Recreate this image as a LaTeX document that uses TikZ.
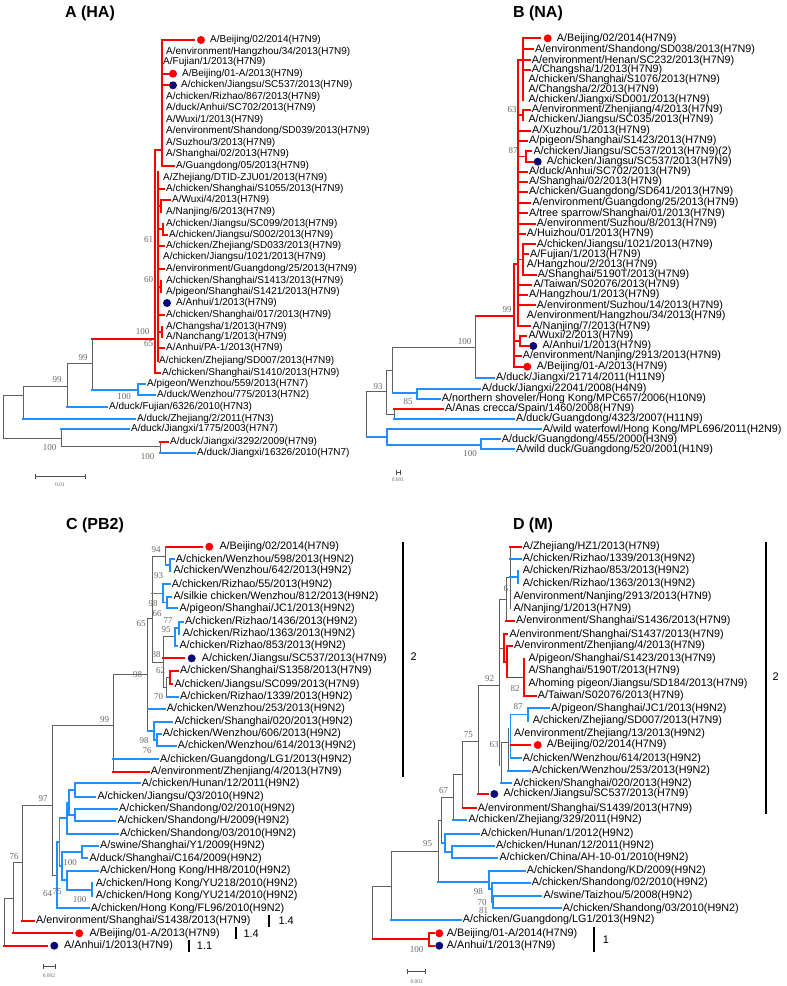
\documentclass[tikz,border=0pt]{standalone}
\usepackage{fontspec}
\setmainfont{Liberation Sans}
\newfontfamily\numfont{Liberation Serif}
\usetikzlibrary{arrows.meta}
\definecolor{hsred}{RGB}{255,0,0}
\definecolor{hnblue}{RGB}{30,144,255}
\definecolor{ndblue}{RGB}{10,10,120}
\definecolor{brgray}{RGB}{96,96,96}
\definecolor{bsgray}{RGB}{105,105,105}

\begin{document}
\begin{tikzpicture}[x=1pt, y=-1pt,
    br/.style={draw=brgray, line width=1pt, line cap=rect},
    h7/.style={draw=hsred, line width=1.8pt, line cap=rect},
    h9/.style={draw=hnblue, line width=1.8pt, line cap=rect},
    leaf/.style={anchor=west, inner sep=2pt},
    lfa/.style={leaf, font=\fontsize{10}{12}\selectfont},
    lfb/.style={leaf, font=\fontsize{10.8}{12}\selectfont},
    rdot/.style={circle, fill=hsred, minimum size=8pt, inner sep=0pt},
    ndot/.style={circle, fill=ndblue, minimum size=8pt, inner sep=0pt},
    boot/.style={font=\numfont\fontsize{9}{9}\selectfont, text=bsgray, inner sep=0pt},
    ttl/.style={font=\fontsize{16}{16}\selectfont\bfseries},
    grpbar/.style={draw=black, line width=2pt},
    grplbl/.style={anchor=west, inner sep=0pt, font=\fontsize{11}{11}\selectfont},
    sbar/.style={draw=black!70, line width=0.8pt, {Bar[width=5pt]}-{Bar[width=5pt]}},
    slbl/.style={font=\numfont\fontsize{5.5}{6}\selectfont, text=bsgray, inner sep=0pt},
]
\useasboundingbox (0,0) rectangle (787,986);

% ---------------- A (HA)
\node[ttl] (ttlA) at (90,13) {A (HA)};
\draw[h7] (155,150) -- (155,373);
\draw[h7] (158,172) -- (158,361);
\draw[h7] (162,40) -- (162,166);
\draw[h7] (155,150) -- (162,150);
\draw[h7] (158,206) -- (161,206) (161,200) -- (161,211.7);
\draw[h7] (158,229) -- (163,229) (163,223.7) -- (163,234.7);
\draw[h7] (158,286.7) -- (161,286.7) (161,281) -- (161,292.3);
\draw[h7] (158,332) -- (162,332) (162,326.7) -- (162,337.3);

\node[rdot] (a01d) at (201,40) {};
\node[lfa] (a01) at (208,40) {A/Beijing/02/2014(H7N9)};
\draw[h7, shorten >=3pt] (162,40) -- (a01d);
\node[lfa] (a02) at (164,51.7) {A/environment/Hangzhou/34/2013(H7N9)};
\node[lfa] (a03) at (161,62.3) {A/Fujian/1/2013(H7N9)};
\node[rdot] (a04d) at (173,73.7) {};
\node[lfa] (a04) at (180,73.7) {A/Beijing/01-A/2013(H7N9)};
\draw[h7] (162,73.7) -- (a04d);
\node[ndot] (a05d) at (173,85.3) {};
\node[lfa] (a05) at (179,85.3) {A/chicken/Jiangsu/SC537/2013(H7N9)};
\draw[h7] (162,85.3) -- (a05d);
\node[lfa] (a06) at (164,97) {A/chicken/Rizhao/867/2013(H7N9)};
\node[lfa] (a07) at (164,108.3) {A/duck/Anhui/SC702/2013(H7N9)};
\node[lfa] (a08) at (164,119.7) {A/Wuxi/1/2013(H7N9)};
\node[lfa] (a09) at (164,131.3) {A/environment/Shandong/SD039/2013(H7N9)};
\node[lfa] (a10) at (164,143) {A/Suzhou/3/2013(H7N9)};
\node[lfa] (a11) at (164,154.3) {A/Shanghai/02/2013(H7N9)};
\node[lfa] (a12) at (174,166) {A/Guangdong/05/2013(H7N9)};
\draw[h7] (162,166) -- (a12);
\node[lfa] (a13) at (161,177.7) {A/Zhejiang/DTID-ZJU01/2013(H7N9)};
\node[lfa] (a14) at (164,189) {A/chicken/Shanghai/S1055/2013(H7N9)};
\draw[h7] (158,189) -- (a14);
\node[lfa] (a15) at (170,200) {A/Wuxi/4/2013(H7N9)};
\draw[h7] (161,200) -- (a15);
\node[lfa] (a16) at (164,211.7) {A/Nanjing/6/2013(H7N9)};
\node[lfa] (a17) at (164,223.7) {A/chicken/Jiangsu/SC099/2013(H7N9)};
\node[lfa] (a18) at (167,234.7) {A/chicken/Jiangsu/S002/2013(H7N9)};
\draw[h7] (163,234.7) -- (a18);
\node[lfa] (a19) at (164,246) {A/chicken/Zhejiang/SD033/2013(H7N9)};
\draw[h7] (158,246) -- (a19);
\node[lfa] (a20) at (161,257.3) {A/chicken/Jiangsu/1021/2013(H7N9)};
\node[lfa] (a21) at (164,269.3) {A/environment/Guangdong/25/2013(H7N9)};
\draw[h7] (158,269.3) -- (a21);
\node[lfa] (a22) at (164,281) {A/chicken/Shanghai/S1413/2013(H7N9)};
\node[lfa] (a23) at (164,292.3) {A/pigeon/Shanghai/S1421/2013(H7N9)};
\node[ndot] (a24d) at (167,303) {};
\node[lfa] (a24) at (174,303) {A/Anhui/1/2013(H7N9)};
\node[lfa] (a25) at (164,315) {A/chicken/Shanghai/017/2013(H7N9)};
\draw[h7] (158,315) -- (a25);
\node[lfa] (a26) at (164,326.7) {A/Changsha/1/2013(H7N9)};
\node[lfa] (a27) at (164,337.3) {A/Nanchang/1/2013(H7N9)};
\node[lfa] (a28) at (164,348.3) {A/Anhui/PA-1/2013(H7N9)};
\draw[h7] (158,348.3) -- (a28);
\node[lfa] (a29) at (157,360.7) {A/chicken/Zhejiang/SD007/2013(H7N9)};
\node[lfa] (a30) at (160,372.7) {A/chicken/Shanghai/S1410/2013(H7N9)};
\draw[h7] (155,372.7) -- (a30);

\draw[h7] (92,339.3) -- (155,339.3);
\draw[br] (92,339.3) -- (92,390);
\draw[h9] (92,390) -- (138,390) (138,384) -- (138,395);
\node[lfa] (a31) at (145,384) {A/pigeon/Wenzhou/559/2013(H7N7)};
\draw[h9] (138,384) -- (a31);
\node[lfa] (a32) at (155,395) {A/duck/Wenzhou/775/2013(H7N2)};
\draw[h9] (138,395) -- (a32);
\draw[br] (67,363) -- (92,363) (67,363) -- (67,406.7);
\node[lfa] (a33) at (107,406.7) {A/duck/Fujian/6326/2010(H7N3)};
\draw[h9] (67,406.7) -- (a33);
\draw[br] (23,386.7) -- (67,386.7) (23,386.7) -- (23,419);
\node[lfa] (a34) at (135,419) {A/duck/Zhejiang/2/2011(H7N3)};
\draw[h9] (23,419) -- (a34);
\draw[br] (3,395) -- (23,395) (3,395) -- (3,438) -- (61,438);
\draw[br] (61,429.3) -- (61,446.7) -- (160,446.7) (160,441.7) -- (160,453.3);
\node[lfa] (a35) at (129,429.3) {A/duck/Jiangxi/1775/2003(H7N7)};
\draw[h9] (61,429.3) -- (a35);
\node[lfa] (a36) at (168,441.7) {A/duck/Jiangxi/3292/2009(H7N9)};
\draw[h7] (160,441.7) -- (a36);
\node[lfa] (a37) at (195,453.3) {A/duck/Jiangxi/16326/2010(H7N7)};
\draw[h9] (160,453.3) -- (a37);

\node[boot] (bsa1) at (148.5,240) {61};
\node[boot] (bsa2) at (148.5,280) {60};
\node[boot] (bsa3) at (142.5,331.7) {100};
\node[boot] (bsa4) at (148.5,344) {65};
\node[boot] (bsa5) at (83,358) {99};
\node[boot] (bsa6) at (124,396.5) {100};
\node[boot] (bsa7) at (57,380) {99};
\node[boot] (bsa8) at (49.5,448) {100};
\node[boot] (bsa9) at (147.5,456.7) {100};
\draw[sbar] (35,476.7) -- (86,476.7);
\node[slbl] (scA) at (60,485) {0.01};

% ---------------- B (NA)
\node[ttl] (ttlB) at (538,13) {B (NA)};
\draw[h7] (523.3,38.3) -- (523.3,100);
\draw[h7] (517.7,60) -- (523.3,60);
\draw[h7] (517.7,60) -- (517.7,326.3);
\draw[h7] (517.7,115) -- (523.3,115) (523.3,110) -- (523.3,120);
\draw[h7] (517.7,156.5) -- (526,156.5) (526,151.3) -- (526,161.7);
\draw[h7] (517.7,259.5) -- (523.3,259.5) (523.3,244.3) -- (523.3,274.7);
\draw[h7] (514,264.3) -- (517.7,264.3) (514,264.3) -- (514,366.7);
\draw[h7] (514,341) -- (520,341) (520,336) -- (520,346);
\draw[h7] (475.7,316) -- (514,316);

\node[rdot] (b01d) at (547.7,38.3) {};
\node[lfb] (b01) at (554.7,38.3) {A/Beijing/02/2014(H7N9)};
\draw[h7, shorten >=3pt] (523.3,38.3) -- (b01d);
\node[lfb] (b02) at (533,49.3) {A/environment/Shandong/SD038/2013(H7N9)};
\draw[h7] (523.3,49.3) -- (b02);
\node[lfb] (b03) at (529.7,60.3) {A/environment/Henan/SC232/2013(H7N9)};
\draw[h7] (523.3,60.3) -- (b03);
\node[lfb] (b04) at (529.7,70) {A/Changsha/1/2013(H7N9)};
\draw[h7] (523.3,70) -- (b04);
\node[lfb] (b05) at (526.3,80) {A/chicken/Shanghai/S1076/2013(H7N9)};
\node[lfb] (b06) at (526.3,90) {A/Changsha/2/2013(H7N9)};
\node[lfb] (b07) at (526.3,100) {A/chicken/Jiangxi/SD001/2013(H7N9)};
\node[lfb] (b08) at (529.7,110) {A/environment/Zhenjiang/4/2013(H7N9)};
\draw[h7] (523.3,110) -- (b08);
\node[lfb] (b09) at (526.3,120) {A/chicken/Jiangsu/SC035/2013(H7N9)};
\node[lfb] (b10) at (530,130.7) {A/Xuzhou/1/2013(H7N9)};
\draw[h7] (517.7,130.7) -- (b10);
\node[lfb] (b11) at (527,140.7) {A/pigeon/Shanghai/S1423/2013(H7N9)};
\draw[h7] (517.7,140.7) -- (b11);
\node[lfb] (b12) at (531.3,151.3) {A/chicken/Jiangsu/SC537/2013(H7N9)(2)};
\draw[h7] (526,151.3) -- (b12);
\node[ndot] (b13d) at (537.7,161.7) {};
\node[lfb] (b13) at (544.7,161.7) {A/chicken/Jiangsu/SC537/2013(H7N9)};
\draw[h7] (526,161.7) -- (b13d);
\node[lfb] (b14) at (527,171.7) {A/duck/Anhui/SC702/2013(H7N9)};
\draw[h7] (517.7,171.7) -- (b14);
\node[lfb] (b15) at (527,181.7) {A/Shanghai/02/2013(H7N9)};
\draw[h7] (517.7,181.7) -- (b15);
\node[lfb] (b16) at (527,191.7) {A/chicken/Guangdong/SD641/2013(H7N9)};
\draw[h7] (517.7,191.7) -- (b16);
\node[lfb] (b17) at (530.3,202.7) {A/environment/Guangdong/25/2013(H7N9)};
\draw[h7] (517.7,202.7) -- (b17);
\node[lfb] (b18) at (527,213.3) {A/tree sparrow/Shanghai/01/2013(H7N9)};
\draw[h7] (517.7,213.3) -- (b18);
\node[lfb] (b19) at (534.7,224) {A/environment/Suzhou/8/2013(H7N9)};
\draw[h7] (517.7,224) -- (b19);
\node[lfb] (b20) at (524.7,234) {A/Huizhou/01/2013(H7N9)};
\draw[h7] (517.7,234) -- (b20);
\node[lfb] (b21) at (534.7,244.3) {A/chicken/Jiangsu/1021/2013(H7N9)};
\draw[h7] (523.3,244.3) -- (b21);
\node[lfb] (b22) at (528,254.3) {A/Fujian/1/2013(H7N9)};
\draw[h7] (523.3,254.3) -- (b22);
\node[lfb] (b23) at (524.7,264.3) {A/Hangzhou/2/2013(H7N9)};
\node[lfb] (b24) at (535.7,274.7) {A/Shanghai/5190T/2013(H7N9)};
\draw[h7] (523.3,274.7) -- (b24);
\node[lfb] (b25) at (531.3,284.7) {A/Taiwan/S02076/2013(H7N9)};
\draw[h7] (517.7,284.7) -- (b25);
\node[lfb] (b26) at (527,295) {A/Hangzhou/1/2013(H7N9)};
\draw[h7] (517.7,295) -- (b26);
\node[lfb] (b27) at (534.7,305.3) {A/environment/Suzhou/14/2013(H7N9)};
\draw[h7] (517.7,305.3) -- (b27);
\node[lfb] (b28) at (524.7,315.7) {A/environment/Hangzhou/34/2013(H7N9)};
\node[lfb] (b29) at (530.3,326.3) {A/Nanjing/7/2013(H7N9)};
\draw[h7] (517.7,326.3) -- (b29);
\node[lfb] (b30) at (526.3,336) {A/Wuxi/2/2013(H7N9)};
\draw[h7] (520,336) -- (b30);
\node[ndot] (b31d) at (533.3,346) {};
\node[lfb] (b31) at (540.3,346) {A/Anhui/1/2013(H7N9)};
\draw[h7] (520,346) -- (b31d);
\node[lfb] (b32) at (520.7,356) {A/environment/Nanjing/2913/2013(H7N9)};
\draw[h7] (514,356) -- (b32);
\node[rdot] (b33d) at (527.3,366.7) {};
\node[lfb] (b33) at (534.7,366.7) {A/Beijing/01-A/2013(H7N9)};
\draw[h7] (514,366.7) -- (b33d);

\draw[br] (475.7,316) -- (475.7,377.7);
\node[lfb] (b34) at (494,377.7) {A/duck/Jiangxi/21714/2011(H11N9)};
\draw[h9] (475.7,377.7) -- (b34);
\draw[br] (392.7,347.3) -- (475.7,347.3) (392.7,347.3) -- (392.7,393.3);
\draw[h9] (392.7,393.3) -- (416.7,393.3) (416.7,389) -- (416.7,399);
\node[lfb] (b35) at (479.7,389) {A/duck/Jiangxi/22041/2008(H4N9)};
\draw[h9] (416.7,389) -- (b35);
\node[lfb] (b36) at (439.7,399) {A/northern shoveler/Hong Kong/MPC657/2006(H10N9)};
\draw[h9] (416.7,399) -- (b36);
\draw[br] (386.7,370) -- (392.7,370) (386.7,370) -- (386.7,414) -- (394,414) (394,409) -- (394,419);
\node[lfb] (b37) at (443,409) {A/Anas crecca/Spain/1460/2008(H7N9)};
\draw[h7] (394,409) -- (b37);
\node[lfb] (b38) at (514,419) {A/duck/Guangdong/4323/2007(H11N9)};
\draw[h9] (394,419) -- (b38);
\draw[br] (386.7,391.7) -- (366.7,391.7) -- (366.7,436.7);
\draw[h9] (366.7,436.7) -- (386.7,436.7) (386.7,429.3) -- (386.7,445) -- (480.7,445) (480.7,439.3) -- (480.7,449.3);
\node[lfb] (b39) at (540.7,429.3) {A/wild waterfowl/Hong Kong/MPL696/2011(H2N9)};
\draw[h9] (386.7,429.3) -- (b39);
\node[lfb] (b40) at (499.7,439.3) {A/duck/Guangdong/455/2000(H3N9)};
\draw[h9] (480.7,439.3) -- (b40);
\node[lfb] (b41) at (514,449.3) {A/wild duck/Guangdong/520/2001(H1N9)};
\draw[h9] (480.7,449.3) -- (b41);

\node[boot] (bsb1) at (512,110) {63};
\node[boot] (bsb2) at (513,151) {87};
\node[boot] (bsb3) at (507,310) {99};
\node[boot] (bsb4) at (464.5,341.7) {100};
\node[boot] (bsb5) at (378,386.7) {93};
\node[boot] (bsb6) at (408,401.7) {85};
\node[boot] (bsb7) at (470,454) {100};
\draw[sbar] (396,472.7) -- (400.7,472.7);
\node[slbl] (scB) at (398,480) {0.001};

% ---------------- C (PB2)
\node[ttl] (ttlC) at (95,525) {C (PB2)};
\node[rdot] (c01d) at (209.3,546.7) {};
\node[lfb] (c01) at (217.3,546.7) {A/Beijing/02/2014(H7N9)};
\draw[h7, shorten >=3pt] (165.7,546.7) -- (c01d);
\draw[br] (165.7,546.7) -- (165.7,565);
\draw[h9] (165.7,565) -- (170,565) (170,559.3) -- (170,571);
\node[lfb] (c02) at (173.7,559.3) {A/chicken/Wenzhou/598/2013(H9N2)};
\draw[h9] (170,559.3) -- (c02);
\node[lfb] (c03) at (171.3,571) {A/chicken/Wenzhou/642/2013(H9N2)};
\draw[br] (152.3,556) -- (165.7,556) (152.3,556) -- (152.3,662);
\draw[h9] (152.3,593.4) -- (163.3,593.4) (163.3,584.3) -- (163.3,602.5) -- (167,602.5) (167,596.7) -- (167,608.3);
\node[lfb] (c04) at (169.7,584.3) {A/chicken/Rizhao/55/2013(H9N2)};
\draw[h9] (163.3,584.3) -- (c04);
\node[lfb] (c05) at (171.3,596.7) {A/silkie chicken/Wenzhou/812/2013(H9N2)};
\draw[h9] (167,596.7) -- (c05);
\node[lfb] (c06) at (177.3,608.3) {A/pigeon/Shanghai/JC1/2013(H9N2)};
\draw[h9] (167,608.3) -- (c06);
\draw[br] (163.3,636.7) -- (175,636.7) (163.3,636.7) -- (163.3,687.2);
\draw[h9] (175,627.8) -- (179,627.8) (179,621.7) -- (179,634) (175,627.8) -- (175,645.7);
\node[lfb] (c07) at (183,621.7) {A/chicken/Rizhao/1436/2013(H9N2)};
\draw[h9] (179,621.7) -- (c07);
\node[lfb] (c08) at (180.7,634) {A/chicken/Rizhao/1363/2013(H9N2)};
\node[lfb] (c09) at (177.3,645.7) {A/chicken/Rizhao/853/2013(H9N2)};
\draw[h9] (175,645.7) -- (c09);
\draw[br] (152.3,662) -- (163.3,662);
\node[ndot] (c10d) at (191.7,658.3) {};
\node[lfb] (c10) at (199.7,658.3) {A/chicken/Jiangsu/SC537/2013(H7N9)};
\draw[h7, shorten >=3pt] (163.3,658.3) -- (c10d);
\draw[br] (163.3,687.2) -- (166.7,687.2) (166.7,677.7) -- (166.7,696.7) (166.7,677.7) -- (170,677.7);
\draw[h7] (170,671) -- (170,684.3);
\node[lfb] (c11) at (178,671) {A/chicken/Shanghai/S1358/2013(H7N9)};
\draw[h7] (170,671) -- (c11);
\node[lfb] (c12) at (172.3,684.3) {A/chicken/Jiangsu/SC099/2013(H7N9)};
\draw[h7] (170,684.3) -- (c12);
\node[lfb] (c13) at (178,696.7) {A/chicken/Rizhao/1339/2013(H9N2)};
\draw[h9] (166.7,696.7) -- (c13);
\draw[br] (147.7,618.4) -- (152.3,618.4) (147.7,618.4) -- (147.7,731);
\node[lfb] (c14) at (164.7,709) {A/chicken/Wenzhou/253/2013(H9N2)};
\draw[h9] (147.7,709) -- (c14);
\draw[h9] (147.7,731) -- (154,731) (154,721.7) -- (154,739.8) -- (156.7,739.8) (156.7,734) -- (156.7,745.7);
\node[lfb] (c15) at (172.3,721.7) {A/chicken/Shanghai/020/2013(H9N2)};
\draw[h9] (154,721.7) -- (c15);
\node[lfb] (c16) at (160.7,734) {A/chicken/Wenzhou/606/2013(H9N2)};
\draw[h9] (156.7,734) -- (c16);
\node[lfb] (c17) at (175.7,745.7) {A/chicken/Wenzhou/614/2013(H9N2)};
\draw[h9] (156.7,745.7) -- (c17);
\draw[br] (113.3,674.7) -- (147.7,674.7) (113.3,674.7) -- (113.3,771.7);
\node[lfb] (c18) at (158,759.3) {A/chicken/Guangdong/LG1/2013(H9N2)};
\draw[h9] (113.3,759.3) -- (c18);
\node[lfb] (c19) at (148.7,771.7) {A/environment/Zhenjiang/4/2013(H7N9)};
\draw[h7] (113.3,771.7) -- (c19);
\draw[br] (52.3,725.7) -- (113.3,725.7) (52.3,725.7) -- (52.3,875.3) -- (57,875.3);

\draw[h9] (69,790) -- (75,790) (75,783.3) -- (75,796.7);
\draw[h9] (69,814.9) -- (75,814.9) (75,809) -- (75,820.7);
\draw[h9] (69,790) -- (69,814.9) (66.7,802.4) -- (69,802.4) (66.7,802.4) -- (66.7,834);
\draw[h9] (59.5,818.2) -- (66.7,818.2);
\draw[h9] (62,852) -- (81.7,852) (81.7,845.7) -- (81.7,858.3);
\draw[h9] (66.7,889.7) -- (91.7,889.7) (91.7,883.3) -- (91.7,896) (66.7,871) -- (66.7,889.7);
\draw[h9] (62,880.3) -- (66.7,880.3) (62,852) -- (62,880.3) (59.5,866.2) -- (62,866.2);
\draw[h9] (59.5,818.2) -- (59.5,866.2) (57,842.2) -- (59.5,842.2) (57,842.2) -- (57,908.3);
\node[lfb] (c20) at (139.7,783.3) {A/chicken/Hunan/12/2011(H9N2)};
\draw[h9] (75,783.3) -- (c20);
\node[lfb] (c21) at (95.3,796.7) {A/chicken/Jiangsu/Q3/2010(H9N2)};
\draw[h9] (75,796.7) -- (c21);
\node[lfb] (c22) at (117,809) {A/chicken/Shandong/02/2010(H9N2)};
\draw[h9] (75,809) -- (c22);
\node[lfb] (c23) at (115.3,820.7) {A/chicken/Shandong/H/2009(H9N2)};
\draw[h9] (75,820.7) -- (c23);
\node[lfb] (c24) at (118,834) {A/chicken/Shandong/03/2010(H9N2)};
\draw[h9] (66.7,834) -- (c24);
\node[lfb] (c25) at (98,845.7) {A/swine/Shanghai/Y1/2009(H9N2)};
\draw[h9] (81.7,845.7) -- (c25);
\node[lfb] (c26) at (87.3,858.3) {A/duck/Shanghai/C164/2009(H9N2)};
\draw[h9] (81.7,858.3) -- (c26);
\node[lfb] (c27) at (98,871) {A/chicken/Hong Kong/HH8/2010(H9N2)};
\draw[h9] (66.7,871) -- (c27);
\node[lfb] (c28) at (93.7,883.3) {A/chicken/Hong Kong/YU218/2010(H9N2)};
\node[lfb] (c29) at (93.7,896) {A/chicken/Hong Kong/YU214/2010(H9N2)};
\node[lfb] (c30) at (88.7,908.3) {A/chicken/Hong Kong/FL96/2010(H9N2)};
\draw[h9] (57,908.3) -- (c30);
\draw[br] (22.3,805) -- (52.3,805) (22.3,805) -- (22.3,920.7);
\node[lfb] (c31) at (34,920.7) {A/environment/Shanghai/S1438/2013(H7N9)};
\draw[h7] (22.3,920.7) -- (c31);
\draw[br] (13.3,862.8) -- (22.3,862.8) (13.3,862.8) -- (13.3,933.3);
\node[rdot] (c32d) at (79.3,933.3) {};
\node[lfb] (c32) at (87.3,933.3) {A/Beijing/01-A/2013(H7N9)};
\draw[h7, shorten >=3pt] (13.3,933.3) -- (c32d);
\draw[br] (4,898) -- (13.3,898) (4,898) -- (4,945.7);
\node[ndot] (c33d) at (54.3,945.7) {};
\node[lfb] (c33) at (62,945.7) {A/Anhui/1/2013(H7N9)};
\draw[h7, shorten >=3pt] (4,945.7) -- (c33d);

\node[boot] (bsc1) at (156,550) {94};
\node[boot] (bsc2) at (158.5,576) {93};
\node[boot] (bsc3) at (153,603.3) {98};
\node[boot] (bsc4) at (157,614) {66};
\node[boot] (bsc5) at (168,620.7) {77};
\node[boot] (bsc6) at (166,630) {95};
\node[boot] (bsc7) at (141,624) {65};
\node[boot] (bsc8) at (156,655) {88};
\node[boot] (bsc9) at (160.5,671) {62};
\node[boot] (bsc10) at (158.5,696.7) {70};
\node[boot] (bsc11) at (137.5,674.3) {98};
\node[boot] (bsc12) at (144,741) {98};
\node[boot] (bsc13) at (147,750.7) {76};
\node[boot] (bsc14) at (104.5,720) {99};
\node[boot] (bsc15) at (43,798.3) {97};
\node[boot] (bsc16) at (70,862.7) {100};
\node[boot] (bsc17) at (79.5,900) {100};
\node[boot] (bsc18) at (47.5,894) {64};
\node[boot] (bsc19) at (57,891.7) {75};
\node[boot] (bsc20) at (14,856.7) {76};
\draw[grpbar] (269.3,915) -- (269.3,927.3);
\node[grplbl] (gc1) at (278.3,920.7) {1.4};
\draw[grpbar] (235.7,927.3) -- (235.7,939.3);
\node[grplbl] (gc2) at (243.3,933.3) {1.4};
\draw[grpbar] (189,940) -- (189,951.7);
\node[grplbl] (gc3) at (196.7,945.7) {1.1};
\draw[grpbar] (402.7,541.7) -- (402.7,776.7);
\node[grplbl] (gc4) at (410.5,657) {2};
\draw[sbar] (43,966.7) -- (56,966.7);
\node[slbl] (scC) at (49,976) {0.002};

% ---------------- D (M)
\node[ttl] (ttlD) at (533,525) {D (M)};
\draw[br] (510,546.7) -- (510,608.3) (506,577.5) -- (510,577.5) (506,577.5) -- (506,621);
\draw[br] (499.3,599.2) -- (506,599.2) (499.3,599.2) -- (499.3,765);
\node[lfb] (d01) at (520.7,546.7) {A/Zhejiang/HZ1/2013(H7N9)};
\draw[h7] (510,546.7) -- (d01);
\node[lfb] (d02) at (520.7,559) {A/chicken/Rizhao/1339/2013(H9N2)};
\draw[h9] (510,559) -- (d02);
\draw[h9] (510,577.2) -- (518.3,577.2) (518.3,571) -- (518.3,583.3);
\node[lfb] (d03) at (520.7,571) {A/chicken/Rizhao/853/2013(H9N2)};
\node[lfb] (d04) at (520.7,583.3) {A/chicken/Rizhao/1363/2013(H9N2)};
\node[lfb] (d05) at (511.3,596.7) {A/environment/Nanjing/2913/2013(H7N9)};
\node[lfb] (d06) at (511.3,608.3) {A/Nanjing/1/2013(H7N9)};
\node[lfb] (d07) at (514,621) {A/environment/Shanghai/S1436/2013(H7N9)};
\draw[h7] (506,621) -- (d07);
\draw[br] (499.3,648) -- (504.3,648);
\draw[h7] (504.3,634.3) -- (504.3,661.8) -- (507.3,661.8) (507.3,646) -- (507.3,677.5) -- (524.3,677.5) (524.3,659) -- (524.3,696);
\node[lfb] (d08) at (507.3,634.3) {A/environment/Shanghai/S1437/2013(H7N9)};
\draw[h7] (504.3,634.3) -- (d08);
\node[lfb] (d09) at (512,646) {A/environment/Zhenjiang/4/2013(H7N9)};
\draw[h7] (507.3,646) -- (d09);
\node[lfb] (d10) at (526.3,659) {A/pigeon/Shanghai/S1423/2013(H7N9)};
\node[lfb] (d11) at (526.3,671) {A/Shanghai/5190T/2013(H7N9)};
\node[lfb] (d12) at (526.3,683.3) {A/homing pigeon/Jiangsu/SD184/2013(H7N9)};
\node[lfb] (d13) at (535.7,696) {A/Taiwan/S02076/2013(H7N9)};
\draw[h7] (524.3,696) -- (d13);
\draw[h9] (510.5,714.5) -- (527.7,714.5) (527.7,708.3) -- (527.7,720.7) (510.5,714.5) -- (510.5,758.3);
\draw[br] (508,728) -- (508,771) (501,742.8) -- (508,742.8) (501,742.8) -- (501,783.3);
\node[lfb] (d14) at (549,708.3) {A/pigeon/Shanghai/JC1/2013(H9N2)};
\draw[h9] (527.7,708.3) -- (d14);
\node[lfb] (d15) at (530.7,720.7) {A/chicken/Zhejiang/SD007/2013(H7N9)};
\node[lfb] (d16) at (512,734) {A/environment/Zhejiang/13/2013(H9N2)};
\node[rdot] (d17d) at (537.7,745) {};
\node[lfb] (d17) at (544.7,745) {A/Beijing/02/2014(H7N9)};
\draw[h7, shorten >=3pt] (510.5,745) -- (d17d);
\node[lfb] (d18) at (520.7,758.3) {A/chicken/Wenzhou/614/2013(H9N2)};
\draw[h9] (510.5,758.3) -- (d18);
\node[lfb] (d19) at (529.7,771) {A/chicken/Wenzhou/253/2013(H9N2)};
\draw[h9] (508,771) -- (d19);
\node[lfb] (d20) at (511.3,783.3) {A/chicken/Shanghai/020/2013(H9N2)};
\draw[h9] (501,783.3) -- (d20);
\draw[br] (478.3,685) -- (499.3,685) (478.3,685) -- (478.3,794);
\node[ndot] (d21d) at (494.3,794) {};
\node[lfb] (d21) at (501.3,794) {A/chicken/Jiangsu/SC537/2013(H7N9)};
\draw[h7, shorten >=2pt] (478.3,794) -- (d21d);
\draw[br] (462.7,741) -- (478.3,741) (462.7,741) -- (462.7,808.3);
\node[lfb] (d22) at (475.7,808.3) {A/environment/Shanghai/S1439/2013(H7N9)};
\draw[h7] (462.7,808.3) -- (d22);
\draw[br] (453.3,774.7) -- (462.7,774.7) (453.3,774.7) -- (453.3,820);
\node[lfb] (d23) at (466.3,820) {A/chicken/Zhejiang/329/2011(H9N2)};
\draw[h9] (453.3,820) -- (d23);
\draw[br] (441.7,797.3) -- (453.3,797.3) (441.7,797.3) -- (441.7,843);
\draw[h9] (441.7,843) -- (445,843) (445,834) -- (445,851.7) -- (451.7,851.7) (451.7,845.7) -- (451.7,857.7);
\node[lfb] (d24) at (478.7,834) {A/chicken/Hunan/1/2012(H9N2)};
\draw[h9] (445,834) -- (d24);
\node[lfb] (d25) at (494,845.7) {A/chicken/Hunan/12/2011(H9N2)};
\draw[h9] (451.7,845.7) -- (d25);
\node[lfb] (d26) at (497.3,857.7) {A/chicken/China/AH-10-01/2010(H9N2)};
\draw[h9] (451.7,857.7) -- (d26);
\draw[br] (438.3,820) -- (441.7,820) (438.3,820) -- (438.3,881.7);
\draw[h9] (438.3,881.7) -- (489.3,881.7) (489.3,871) -- (489.3,889) -- (491.7,889) (491.7,882.7) -- (491.7,902) -- (493,902) (493,896) -- (493,908.3);
\node[lfb] (d27) at (524.7,871) {A/chicken/Shandong/KD/2009(H9N2)};
\draw[h9] (489.3,871) -- (d27);
\node[lfb] (d28) at (529.7,882.7) {A/chicken/Shandong/02/2010(H9N2)};
\draw[h9] (491.7,882.7) -- (d28);
\node[lfb] (d29) at (541.3,896) {A/swine/Taizhou/5/2008(H9N2)};
\draw[h9] (493,896) -- (d29);
\node[lfb] (d30) at (560.7,908.3) {A/chicken/Shandong/03/2010(H9N2)};
\draw[h9] (493,908.3) -- (d30);
\draw[br] (391,851) -- (438.3,851) (391,851) -- (391,920);
\node[lfb] (d31) at (460.7,920) {A/chicken/Guangdong/LG1/2013(H9N2)};
\draw[h9] (391,920) -- (d31);
\draw[br] (372.7,886.7) -- (391,886.7) (372.7,886.7) -- (372.7,939);
\draw[h7] (372.7,939) -- (429.3,939) (429.3,933.3) -- (429.3,945.7);
\node[rdot] (d32d) at (439.3,933.3) {};
\node[lfb] (d32) at (444.7,933.3) {A/Beijing/01-A/2014(H7N9)};
\draw[h7, shorten >=1pt] (429.3,933.3) -- (d32d);
\node[ndot] (d33d) at (439.3,945.7) {};
\node[lfb] (d33) at (444.7,945.7) {A/Anhui/1/2013(H7N9)};
\draw[h7, shorten >=1pt] (429.3,945.7) -- (d33d);

\node[boot] (bsd1) at (508,588.3) {61};
\node[boot] (bsd2) at (489.5,678.3) {92};
\node[boot] (bsd3) at (515,688.3) {82};
\node[boot] (bsd4) at (518,706.7) {87};
\node[boot] (bsd5) at (494,744.3) {63};
\node[boot] (bsd6) at (468.3,734.3) {75};
\node[boot] (bsd7) at (443.5,791) {67};
\node[boot] (bsd8) at (427.5,844) {95};
\node[boot] (bsd9) at (478.3,891.7) {98};
\node[boot] (bsd10) at (482,902.3) {70};
\node[boot] (bsd11) at (483.5,910.7) {81};
\node[boot] (bsd12) at (416.5,950) {100};
\draw[grpbar] (594.3,927.3) -- (594.3,951.7);
\node[grplbl] (gd1) at (602.7,939.3) {1};
\draw[grpbar] (766,541.7) -- (766,814.3);
\node[grplbl] (gd2) at (772.5,677) {2};
\draw[sbar] (407.3,971.7) -- (426,971.7);
\node[slbl] (scD) at (416.7,981.7) {0.002};
\end{tikzpicture}
\end{document}
